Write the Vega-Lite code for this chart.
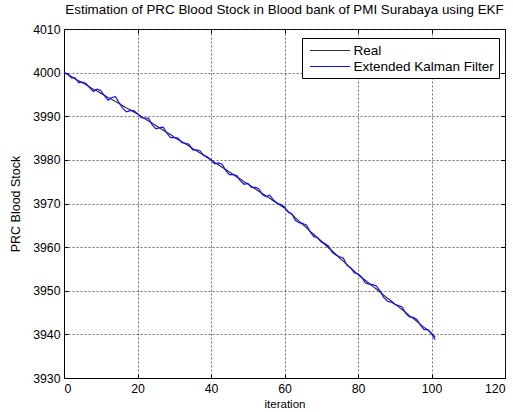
{
  "$schema": "https://vega.github.io/schema/vega-lite/v6.json",
  "width": 441,
  "height": 349,
  "autosize": {"type": "none"},
  "padding": {"left": 64, "top": 29, "right": 8, "bottom": 34},
  "background": "white",
  "title": {"text": "Estimation of PRC Blood Stock in Blood bank of PMI Surabaya using EKF", "fontSize": 13.4, "font": "Liberation Sans", "fontWeight": "normal", "anchor": "middle", "offset": 7, "color": "black"},
  "data": {"values": [
    {"i": 0, "Real": 4000.0, "Extended Kalman Filter": 4000.0},
    {"i": 1, "Real": 3999.6, "Extended Kalman Filter": 3999.7},
    {"i": 2, "Real": 3999.1, "Extended Kalman Filter": 3998.8},
    {"i": 3, "Real": 3998.6, "Extended Kalman Filter": 3998.8},
    {"i": 4, "Real": 3998.1, "Extended Kalman Filter": 3997.7},
    {"i": 5, "Real": 3997.7, "Extended Kalman Filter": 3997.8},
    {"i": 6, "Real": 3997.2, "Extended Kalman Filter": 3997.5},
    {"i": 7, "Real": 3996.7, "Extended Kalman Filter": 3996.5},
    {"i": 8, "Real": 3996.2, "Extended Kalman Filter": 3995.7},
    {"i": 9, "Real": 3995.8, "Extended Kalman Filter": 3996.2},
    {"i": 10, "Real": 3995.3, "Extended Kalman Filter": 3995.9},
    {"i": 11, "Real": 3994.8, "Extended Kalman Filter": 3994.7},
    {"i": 12, "Real": 3994.3, "Extended Kalman Filter": 3993.7},
    {"i": 13, "Real": 3993.9, "Extended Kalman Filter": 3994.3},
    {"i": 14, "Real": 3993.4, "Extended Kalman Filter": 3994.5},
    {"i": 15, "Real": 3992.9, "Extended Kalman Filter": 3993.1},
    {"i": 16, "Real": 3992.4, "Extended Kalman Filter": 3991.8},
    {"i": 17, "Real": 3991.9, "Extended Kalman Filter": 3991.0},
    {"i": 18, "Real": 3991.5, "Extended Kalman Filter": 3991.3},
    {"i": 19, "Real": 3991.0, "Extended Kalman Filter": 3991.3},
    {"i": 20, "Real": 3990.5, "Extended Kalman Filter": 3990.6},
    {"i": 21, "Real": 3990.0, "Extended Kalman Filter": 3989.7},
    {"i": 22, "Real": 3989.4, "Extended Kalman Filter": 3989.6},
    {"i": 23, "Real": 3988.9, "Extended Kalman Filter": 3989.5},
    {"i": 24, "Real": 3988.4, "Extended Kalman Filter": 3988.0},
    {"i": 25, "Real": 3987.9, "Extended Kalman Filter": 3987.1},
    {"i": 26, "Real": 3987.3, "Extended Kalman Filter": 3987.4},
    {"i": 27, "Real": 3986.8, "Extended Kalman Filter": 3987.5},
    {"i": 28, "Real": 3986.3, "Extended Kalman Filter": 3986.1},
    {"i": 29, "Real": 3985.8, "Extended Kalman Filter": 3985.1},
    {"i": 30, "Real": 3985.2, "Extended Kalman Filter": 3985.1},
    {"i": 31, "Real": 3984.7, "Extended Kalman Filter": 3985.0},
    {"i": 32, "Real": 3984.2, "Extended Kalman Filter": 3984.0},
    {"i": 33, "Real": 3983.7, "Extended Kalman Filter": 3983.8},
    {"i": 34, "Real": 3983.2, "Extended Kalman Filter": 3983.6},
    {"i": 35, "Real": 3982.6, "Extended Kalman Filter": 3982.3},
    {"i": 36, "Real": 3982.1, "Extended Kalman Filter": 3982.3},
    {"i": 37, "Real": 3981.6, "Extended Kalman Filter": 3982.1},
    {"i": 38, "Real": 3981.1, "Extended Kalman Filter": 3981.0},
    {"i": 39, "Real": 3980.5, "Extended Kalman Filter": 3980.7},
    {"i": 40, "Real": 3980.0, "Extended Kalman Filter": 3980.0},
    {"i": 41, "Real": 3979.4, "Extended Kalman Filter": 3979.1},
    {"i": 42, "Real": 3978.9, "Extended Kalman Filter": 3979.3},
    {"i": 43, "Real": 3978.3, "Extended Kalman Filter": 3979.0},
    {"i": 44, "Real": 3977.8, "Extended Kalman Filter": 3977.6},
    {"i": 45, "Real": 3977.2, "Extended Kalman Filter": 3976.6},
    {"i": 46, "Real": 3976.7, "Extended Kalman Filter": 3976.6},
    {"i": 47, "Real": 3976.1, "Extended Kalman Filter": 3976.4},
    {"i": 48, "Real": 3975.6, "Extended Kalman Filter": 3975.2},
    {"i": 49, "Real": 3975.0, "Extended Kalman Filter": 3974.4},
    {"i": 50, "Real": 3974.5, "Extended Kalman Filter": 3974.6},
    {"i": 51, "Real": 3973.9, "Extended Kalman Filter": 3973.7},
    {"i": 52, "Real": 3973.4, "Extended Kalman Filter": 3973.7},
    {"i": 53, "Real": 3972.8, "Extended Kalman Filter": 3973.4},
    {"i": 54, "Real": 3972.3, "Extended Kalman Filter": 3972.0},
    {"i": 55, "Real": 3971.7, "Extended Kalman Filter": 3971.6},
    {"i": 56, "Real": 3971.2, "Extended Kalman Filter": 3971.9},
    {"i": 57, "Real": 3970.6, "Extended Kalman Filter": 3970.8},
    {"i": 58, "Real": 3970.1, "Extended Kalman Filter": 3970.0},
    {"i": 59, "Real": 3969.5, "Extended Kalman Filter": 3969.8},
    {"i": 60, "Real": 3969.0, "Extended Kalman Filter": 3969.2},
    {"i": 61, "Real": 3968.2, "Extended Kalman Filter": 3968.0},
    {"i": 62, "Real": 3967.5, "Extended Kalman Filter": 3967.6},
    {"i": 63, "Real": 3966.7, "Extended Kalman Filter": 3966.1},
    {"i": 64, "Real": 3965.9, "Extended Kalman Filter": 3965.6},
    {"i": 65, "Real": 3965.2, "Extended Kalman Filter": 3965.4},
    {"i": 66, "Real": 3964.4, "Extended Kalman Filter": 3965.0},
    {"i": 67, "Real": 3963.6, "Extended Kalman Filter": 3963.5},
    {"i": 68, "Real": 3962.9, "Extended Kalman Filter": 3962.4},
    {"i": 69, "Real": 3962.1, "Extended Kalman Filter": 3962.2},
    {"i": 70, "Real": 3961.4, "Extended Kalman Filter": 3961.2},
    {"i": 71, "Real": 3960.6, "Extended Kalman Filter": 3960.8},
    {"i": 72, "Real": 3959.8, "Extended Kalman Filter": 3960.2},
    {"i": 73, "Real": 3959.1, "Extended Kalman Filter": 3958.8},
    {"i": 74, "Real": 3958.3, "Extended Kalman Filter": 3958.2},
    {"i": 75, "Real": 3957.5, "Extended Kalman Filter": 3957.8},
    {"i": 76, "Real": 3956.8, "Extended Kalman Filter": 3957.5},
    {"i": 77, "Real": 3956.0, "Extended Kalman Filter": 3955.8},
    {"i": 78, "Real": 3955.2, "Extended Kalman Filter": 3955.3},
    {"i": 79, "Real": 3954.5, "Extended Kalman Filter": 3954.1},
    {"i": 80, "Real": 3953.7, "Extended Kalman Filter": 3953.9},
    {"i": 81, "Real": 3953.0, "Extended Kalman Filter": 3953.1},
    {"i": 82, "Real": 3952.4, "Extended Kalman Filter": 3951.8},
    {"i": 83, "Real": 3951.7, "Extended Kalman Filter": 3951.5},
    {"i": 84, "Real": 3951.0, "Extended Kalman Filter": 3951.4},
    {"i": 85, "Real": 3950.4, "Extended Kalman Filter": 3951.1},
    {"i": 86, "Real": 3949.7, "Extended Kalman Filter": 3949.9},
    {"i": 87, "Real": 3949.0, "Extended Kalman Filter": 3948.5},
    {"i": 88, "Real": 3948.3, "Extended Kalman Filter": 3947.6},
    {"i": 89, "Real": 3947.7, "Extended Kalman Filter": 3947.4},
    {"i": 90, "Real": 3947.0, "Extended Kalman Filter": 3946.9},
    {"i": 91, "Real": 3946.3, "Extended Kalman Filter": 3946.6},
    {"i": 92, "Real": 3945.7, "Extended Kalman Filter": 3946.3},
    {"i": 93, "Real": 3945.0, "Extended Kalman Filter": 3944.8},
    {"i": 94, "Real": 3944.3, "Extended Kalman Filter": 3944.0},
    {"i": 95, "Real": 3943.7, "Extended Kalman Filter": 3943.9},
    {"i": 96, "Real": 3943.0, "Extended Kalman Filter": 3943.4},
    {"i": 97, "Real": 3942.3, "Extended Kalman Filter": 3942.1},
    {"i": 98, "Real": 3941.6, "Extended Kalman Filter": 3941.1},
    {"i": 99, "Real": 3941.0, "Extended Kalman Filter": 3941.1},
    {"i": 100, "Real": 3940.3, "Extended Kalman Filter": 3940.1},
    {"i": 101, "Real": 3939.4, "Extended Kalman Filter": 3938.8}
  ]},
  "transform": [{"fold": ["Real", "Extended Kalman Filter"], "as": ["series", "value"]}],
  "layer": [
    {
      "mark": {"type": "line", "strokeWidth": 1.2},
      "encoding": {
        "x": {"field": "i", "type": "quantitative", "scale": {"domain": [0, 120], "nice": false}, "axis": {"values": [0, 20, 40, 60, 80, 100, 120], "title": "iteration", "grid": true, "labelPadding": 8, "titlePadding": 4, "titleFontSize": 11.5}},
        "y": {"field": "value", "type": "quantitative", "scale": {"domain": [3930, 4010], "nice": false, "zero": false}, "axis": {"values": [3930, 3940, 3950, 3960, 3970, 3980, 3990, 4000, 4010], "format": "d", "title": "PRC Blood Stock", "grid": true}},
        "color": {"field": "series", "type": "nominal", "scale": {"domain": ["Real", "Extended Kalman Filter"], "range": ["#303030", "#1010ff"]},
          "legend": {"title": null, "orient": "none", "legendX": 238, "legendY": 9, "strokeColor": "#000000", "fillColor": "#ffffff", "padding": 5, "symbolType": "M-3.08,0H3.08", "symbolSize": 169, "symbolOffset": 15.5, "symbolStrokeWidth": 1.2, "labelFontSize": 13.5, "labelFont": "Liberation Sans", "labelColor": "#000000", "rowPadding": 2, "labelOffset": 16}}
      }
    },
    {
      "mark": {"type": "line", "opacity": 0},
      "encoding": {
        "x": {"field": "i", "type": "quantitative", "axis": {"orient": "top", "values": [0, 20, 40, 60, 80, 100, 120], "labels": false, "title": null, "grid": false, "domain": false}},
        "y": {"field": "value", "type": "quantitative", "axis": {"orient": "right", "values": [3930, 3940, 3950, 3960, 3970, 3980, 3990, 4000, 4010], "labels": false, "title": null, "grid": false, "domain": false}}
      }
    }
  ],
  "resolve": {"axis": {"x": "independent", "y": "independent"}},
  "config": {
    "view": {"stroke": "#000000", "strokeWidth": 1},
    "axis": {
      "domainColor": "#000000",
      "tickColor": "#000000",
      "tickSize": -4,
      "labelFont": "Liberation Sans",
      "labelFontSize": 12.3,
      "labelColor": "#000000",
      "labelPadding": 8,
      "titleFont": "Liberation Sans",
      "titleFontSize": 12.5,
      "titleFontWeight": "normal",
      "titleColor": "#000000",
      "gridColor": "#333333",
      "gridDash": [2, 2],
      "gridOpacity": 0.7
    },
    "axisY": {"titlePadding": 10}
  }
}
